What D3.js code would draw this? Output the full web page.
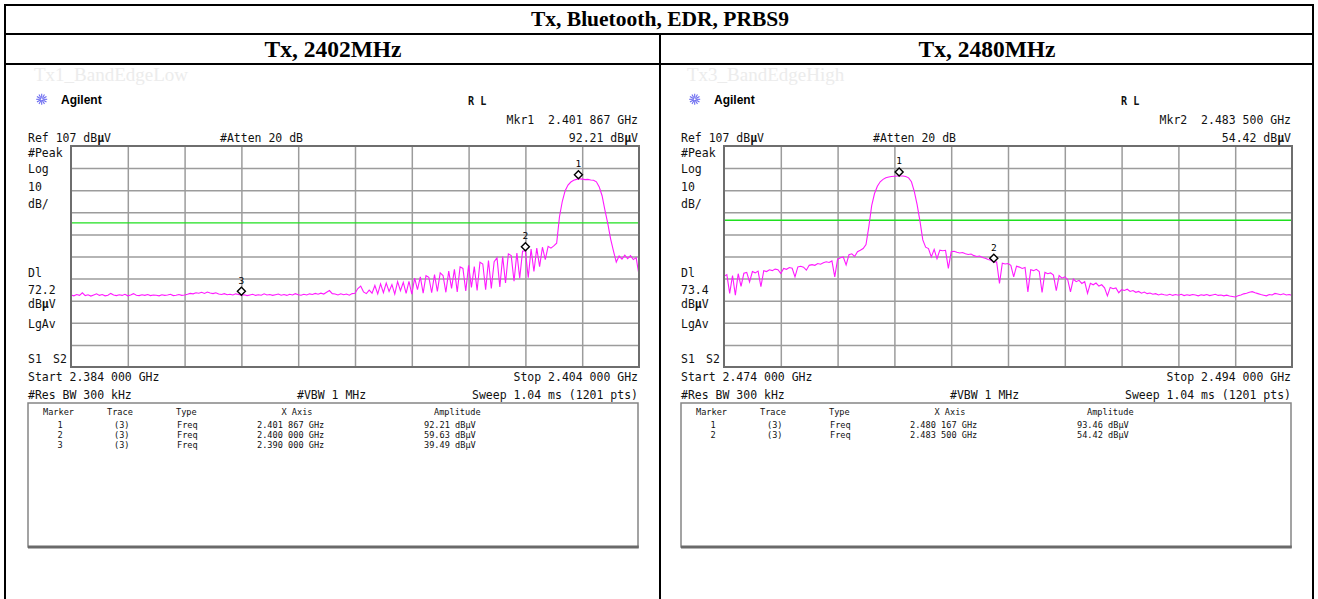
<!DOCTYPE html>
<html>
<head>
<meta charset="utf-8">
<script src="https://cdn.jsdelivr.net/npm/d3@7"></script>
<style>
  html, body { margin: 0; padding: 0; background: #fff; }
  svg { display: block; }
</style>
</head>
<body>
<svg id="page" width="1318" height="599"></svg>
<script>
// ---------------- data ----------------
const pageTitle = "Tx, Bluetooth, EDR, PRBS9";
const panelTitles = ["Tx, 2402MHz", "Tx, 2480MHz"];
const plotNames = ["Tx1_BandEdgeLow", "Tx3_BandEdgeHigh"];
const sweepStartGHz = [2.384, 2.474];
const sweepStopGHz = [2.404, 2.494];
const displayLineDb = [72.2, 73.4];
const refLevelDb = 107;
const dbPerDiv = 10;

// trace 3, 201 sweep points from start to stop (dBµV)
const lowTrace = [
  39.6, 39.2, 39.8, 39.4, 40.6, 39.3, 39.7, 39.1, 39.6, 40.1,
  39.4, 39.8, 39.2, 39.5, 40.3, 39.6, 39.3, 39.7, 39.4, 39.9,
  39.2, 39.6, 40.2, 39.5, 39.3, 39.7, 39.4, 39.8, 39.3, 39.6,
  39.5, 39.2, 39.7, 39.4, 39.6, 39.9, 39.3, 39.5, 39.8, 39.4,
  39.6, 39.9, 40.3, 40.1, 40.6, 40.4, 40.8, 40.3, 40.9, 40.5,
  40.2, 40.6, 40.0, 39.8, 40.2, 39.7, 39.9, 39.6, 40.1, 39.8,
  39.49, 39.7, 39.3, 39.6, 39.9, 39.4, 39.7, 39.5, 40.1, 39.6,
  39.8, 39.4, 39.7, 40.0, 39.5, 39.8, 39.4, 39.9, 39.6, 40.2,
  39.7, 39.5, 39.9, 39.6, 40.1, 39.8, 40.3, 39.9, 40.4, 40.0,
  40.8, 41.6, 40.2, 40.0, 39.6, 40.1, 39.7, 40.0, 39.5, 40.2,
  40.4, 42.5, 43.6, 41.0, 40.2, 41.8, 40.4, 43.9, 40.1, 44.6,
  40.6, 45.0, 41.2, 44.3, 40.0, 45.6, 41.5, 45.3, 40.3, 45.8,
  40.0, 47.2, 42.0, 47.8, 40.4, 48.3, 47.6, 40.6, 48.8, 41.2,
  49.6, 48.4, 40.8, 50.4, 42.6, 51.2, 41.0, 52.3, 51.6, 41.4,
  53.0, 43.0, 52.4, 41.6, 54.4, 53.6, 42.0, 55.2, 42.6, 54.6,
  56.4, 43.2, 57.0, 45.0, 58.2, 57.4, 45.8, 58.6, 47.2, 59.4,
  59.63, 47.4, 60.4, 50.2, 60.8, 52.4, 61.2, 55.6, 61.6, 60.8,
  61.8, 63.0, 75.0, 82.0, 86.8, 89.3, 90.7, 91.5, 91.9, 92.2,
  92.0, 91.8, 91.9, 91.6, 91.5, 90.8, 88.5, 84.5, 78.0, 72.0,
  65.0, 59.5, 54.5, 57.2, 55.8, 57.6, 56.0, 57.4, 55.6, 56.5,
  48.6
];

const highTrace = [
  48.0, 48.8, 40.3, 48.4, 39.5, 49.2, 43.5, 49.4, 49.8, 45.5,
  50.2, 49.6, 50.4, 43.3, 50.6, 50.2, 51.0, 50.6, 51.3, 51.0,
  49.3, 51.6, 51.2, 52.0, 51.7, 47.8, 52.3, 52.6, 52.2, 50.8,
  53.0, 53.3, 53.0, 53.8, 53.5, 54.2, 54.6, 54.3, 55.0, 47.8,
  55.8, 56.4, 56.8, 53.2, 57.8, 58.2, 57.0, 59.2, 59.8, 60.6,
  62.4, 70.5, 80.0, 85.5, 88.8, 90.8, 91.9, 92.6, 93.0, 93.2,
  93.3, 93.4, 93.45, 93.4, 93.2, 92.6, 90.8, 86.5, 80.5, 73.0,
  64.5, 61.2, 60.6, 56.8, 60.2, 56.0, 59.9, 59.6, 59.8, 51.6,
  59.2, 59.4, 58.9, 58.6, 58.8, 58.2, 57.9, 58.1, 57.4, 57.0,
  57.2, 56.5, 56.2, 55.6, 55.3, 54.42, 54.6, 44.8, 54.0, 53.6,
  53.8, 53.0, 47.8, 52.6, 52.2, 51.6, 52.0, 41.0, 51.0, 50.6,
  51.2, 50.2, 40.7, 49.8, 49.2, 49.6, 48.6, 41.5, 48.4, 47.2,
  47.8, 46.6, 41.0, 46.8, 45.6, 46.2, 44.8, 45.6, 40.3, 44.9,
  44.2, 45.0, 43.6, 44.2, 42.8, 39.2, 43.0, 42.4, 42.8, 40.6,
  42.0, 41.6, 42.2, 41.2, 41.6, 40.8, 41.2, 40.4, 40.9, 40.2,
  40.5, 39.9, 40.2, 39.6, 40.0, 39.7, 39.5, 39.9, 39.4, 39.8,
  39.5, 39.9, 39.3, 39.7, 39.4, 39.8, 39.6, 39.2, 39.7, 39.4,
  39.8, 39.3, 39.6, 39.9, 39.4, 39.6, 39.2, 39.5, 39.1, 38.9,
  38.7, 39.2, 39.6, 40.1, 40.4, 40.8, 41.1, 40.6, 40.2, 39.8,
  39.5, 39.2, 39.8, 39.6, 40.3, 40.0, 39.7, 40.1, 39.6, 39.8,
  39.4
];

const lowMarkerFreq = [2.401867, 2.400000, 2.390000];
const lowMarkerAmp = [92.21, 59.63, 39.49];
const highMarkerFreq = [2.480167, 2.483500];
const highMarkerAmp = [93.46, 54.42];
const activeMarker = [1, 2];

const tableHeaders = ["Marker", "Trace", "Type", "X Axis", "Amplitude"];

// ---------------- drawing ----------------
const svg = d3.select("#page");
const serif = "'Liberation Serif', 'Times New Roman', serif";
const mono = "'DejaVu Sans Mono', 'Liberation Mono', monospace";
const sans = "'Liberation Sans', Arial, sans-serif";

// page table frame
const frame = svg.append("g").attr("stroke", "#000").attr("stroke-width", 2);
[[4, 1314, 5, 5], [4, 1314, 34, 34], [4, 1314, 64, 64],
 [5, 5, 4, 599], [1313, 1313, 4, 599], [660, 660, 34, 599]]
  .forEach(([x1, x2, y1, y2]) => frame.append("line")
    .attr("x1", x1).attr("x2", x2).attr("y1", y1).attr("y2", y2));

svg.append("text").attr("x", 660).attr("y", 25.5)
  .attr("text-anchor", "middle").attr("font-family", serif)
  .attr("font-weight", "bold").attr("font-size", 21.5).text(pageTitle);

[333, 987].forEach((cx, k) => svg.append("text").attr("x", cx).attr("y", 56.5)
  .attr("text-anchor", "middle").attr("font-family", serif)
  .attr("font-weight", "bold").attr("font-size", 23.5).text(panelTitles[k]));

function fmtGHz(v) {
  const s = v.toFixed(6);
  return s.slice(0, 5) + " " + s.slice(5);
}

// analyser screen text: tall narrow glyphs, µ set bold where the screen does so
function inst(g, x, y, str, opt = {}) {
  const size = opt.size || 12.5, sx = opt.sx || 0.92;
  const t = g.append("text")
    .attr("transform", `translate(${x},${y}) scale(${sx},1)`)
    .attr("font-family", mono).attr("font-size", size)
    .attr("font-weight", opt.bold ? "bold" : null)
    .attr("text-anchor", opt.anchor || "start")
    .attr("fill", "#111").style("white-space", "pre");
  str.split("µ").forEach((part, i) => {
    if (i > 0) t.append("tspan").attr("font-weight", opt.plainMu ? null : "bold").text("µ");
    if (part) t.append("tspan").text(part);
  });
  return t;
}

function drawPanel(k, dx, trace, mFreq, mAmp) {
  const g = svg.append("g");
  const start = sweepStartGHz[k], stop = sweepStopGHz[k];
  const gx0 = 71 + dx, gx1 = 639 + dx, gy0 = 146, gy1 = 367;
  const L = 28 + dx, R = 638 + dx;

  // faint plot name
  g.append("text").attr("x", 34 + dx).attr("y", 81)
    .attr("font-family", serif).attr("font-size", 19)
    .attr("fill", "#ececec").text(plotNames[k]);

  // Agilent spark
  const sp = g.append("g").attr("transform", `translate(${41.7 + dx},99.3)`)
    .attr("stroke", "#6b6bf0").attr("stroke-width", 1.1);
  d3.range(12).forEach(j => {
    const a = j * Math.PI / 6;
    sp.append("line").attr("x1", Math.cos(a) * 2).attr("y1", Math.sin(a) * 2)
      .attr("x2", Math.cos(a) * 5.5).attr("y2", Math.sin(a) * 5.5);
  });
  sp.append("circle").attr("r", 1.6).attr("fill", "#fff");
  g.append("text").attr("x", 61 + dx).attr("y", 104)
    .attr("font-family", sans).attr("font-weight", "bold").attr("font-size", 12)
    .text("Agilent");

  inst(g, 468 + dx, 105, "R L", { bold: true, size: 13, sx: 0.78 });

  const am = activeMarker[k] - 1;
  inst(g, R, 124, `Mkr${activeMarker[k]}  ${fmtGHz(mFreq[am])} GHz`, { anchor: "end" });
  inst(g, R, 141.5, `${mAmp[am].toFixed(2)} dBµV`, { anchor: "end" });
  inst(g, L, 141.5, `Ref ${refLevelDb} dBµV`);
  inst(g, 220 + dx, 141.5, "#Atten 20 dB");

  const sideLabels = [["#Peak", 156.5], ["Log", 173.3], ["10", 190.5], ["dB/", 207.5],
    ["Dl", 277.3], [displayLineDb[k].toFixed(1), 294], ["dBµV", 308.3], ["LgAv", 328.3]];
  sideLabels.forEach(([s, yy]) => inst(g, L, yy, s));
  inst(g, L, 363.3, "S1");
  inst(g, L + 25, 363.3, "S2");

  inst(g, L, 380.5, `Start ${fmtGHz(start)} GHz`);
  inst(g, R, 380.5, `Stop ${fmtGHz(stop)} GHz`, { anchor: "end" });
  inst(g, L, 398.5, "#Res BW 300 kHz");
  inst(g, 297 + dx, 398.5, "#VBW 1 MHz");
  inst(g, R, 398.5, "Sweep 1.04 ms (1201 pts)", { anchor: "end" });

  // scales
  const x = d3.scaleLinear().domain([start, stop]).range([gx0, gx1]);
  const y = d3.scaleLinear().domain([refLevelDb - 10 * dbPerDiv, refLevelDb]).range([gy1, gy0]);
  const xDiv = d3.range(1, 10).map(i => start + i * (stop - start) / 10);
  const yDiv = d3.range(1, 10).map(i => refLevelDb - i * dbPerDiv);

  const styleGrid = sel => {
    sel.select(".domain").remove();
    sel.selectAll(".tick line").attr("stroke", "#9c9c9c").attr("stroke-width", 1.5);
  };
  g.append("g").attr("transform", `translate(0,${gy1})`)
    .call(d3.axisBottom(x).tickValues(xDiv).tickSize(-(gy1 - gy0)).tickFormat(""))
    .call(styleGrid);
  g.append("g").attr("transform", `translate(${gx0},0)`)
    .call(d3.axisLeft(y).tickValues(yDiv).tickSize(-(gx1 - gx0)).tickFormat(""))
    .call(styleGrid);

  const clipId = "clip" + k;
  g.append("clipPath").attr("id", clipId).append("rect")
    .attr("x", gx0).attr("y", gy0).attr("width", gx1 - gx0).attr("height", gy1 - gy0);

  // display line
  g.append("line").attr("x1", gx0).attr("x2", gx1)
    .attr("y1", y(displayLineDb[k])).attr("y2", y(displayLineDb[k]))
    .attr("stroke", "#1fe01f").attr("stroke-width", 1.4);

  // trace
  const n = trace.length;
  const line = d3.line()
    .x((d, i) => x(start + i * (stop - start) / (n - 1)))
    .y(d => y(d));
  g.append("path").attr("clip-path", `url(#${clipId})`)
    .attr("d", line(trace)).attr("fill", "none")
    .attr("stroke", "#ff1aff").attr("stroke-width", 1.1);

  // graticule border
  g.append("rect").attr("x", gx0).attr("y", gy0)
    .attr("width", gx1 - gx0).attr("height", gy1 - gy0)
    .attr("fill", "none").attr("stroke", "#6e6e6e").attr("stroke-width", 2);

  // markers
  mFreq.forEach((f, i) => {
    const px = x(f), py = y(mAmp[i]);
    g.append("path")
      .attr("d", `M${px},${py - 8}L${px + 4},${py - 4}L${px},${py}L${px - 4},${py - 4}Z`)
      .attr("fill", "#fff").attr("stroke", "#000").attr("stroke-width", 1.4);
    g.append("text").attr("x", px).attr("y", py - 11.5)
      .attr("text-anchor", "middle").attr("font-family", mono).attr("font-size", 9.5)
      .text(i + 1);
  });

  // marker table
  const bx0 = 28 + dx, bx1 = 638 + dx, by0 = 403, by1 = 547;
  g.append("rect").attr("x", bx0).attr("y", by0).attr("width", bx1 - bx0).attr("height", by1 - by0)
    .attr("fill", "#fff").attr("stroke", "#858585").attr("stroke-width", 1.5);
  g.append("line").attr("x1", bx0).attr("x2", bx1 + 0.75).attr("y1", by1).attr("y2", by1)
    .attr("stroke", "#6a6a6a").attr("stroke-width", 3);

  const tOpt = { size: 8.6, sx: 1.0 };
  const hx = [[43, "start"], [107, "start"], [176, "start"], [297, "middle"], [434, "start"]];
  tableHeaders.forEach((h, j) => inst(g, hx[j][0] + dx, 414.5, h, { ...tOpt, anchor: hx[j][1] }));
  mFreq.forEach((f, i) => {
    const yy = 427.5 + i * 10;
    inst(g, 60 + dx, yy, String(i + 1), { ...tOpt, anchor: "middle" });
    inst(g, 114 + dx, yy, "(3)", tOpt);
    inst(g, 177 + dx, yy, "Freq", tOpt);
    inst(g, 257 + dx, yy, `${fmtGHz(f)} GHz`, tOpt);
    inst(g, 424 + dx, yy, `${mAmp[i].toFixed(2)} dBµV`, { ...tOpt, plainMu: true });
  });
}

drawPanel(0, 0, lowTrace, lowMarkerFreq, lowMarkerAmp);
drawPanel(1, 653, highTrace, highMarkerFreq, highMarkerAmp);
</script>
</body>
</html>
